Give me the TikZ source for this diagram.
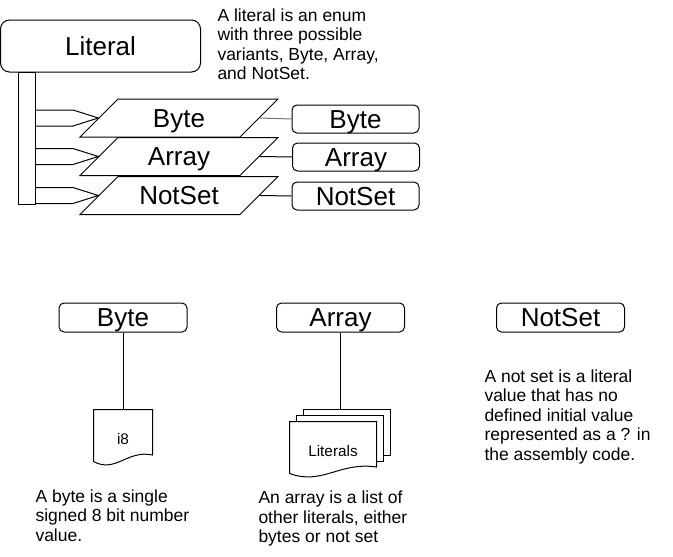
\documentclass[tikz,border=0pt]{standalone}
\usepackage{fontspec}
\setmainfont{Liberation Sans}
\usetikzlibrary{positioning,shapes.geometric,calc}

\begin{document}
\begin{tikzpicture}[
  x=1pt, y=-1pt, line width=1pt,
  lbox/.style={draw, rounded corners=5pt, minimum width=127pt, minimum height=28pt, inner sep=0pt,
               text height=18pt, text depth=0pt, font=\fontsize{26}{30}\selectfont},
  variant/.style={draw, trapezium, trapezium left angle=45, trapezium right angle=135,
                  trapezium stretches body, minimum width=198pt, inner xsep=0pt, inner ysep=10pt,
                  text height=18pt, text depth=0pt, font=\fontsize{26}{30}\selectfont},
  note/.style={anchor=north west, inner sep=0pt, align=left, font=\fontsize{17.5}{19.5}\selectfont},
  doc/.style={minimum height=51pt, inner sep=0pt, text height=17pt, text depth=0pt,
              font=\fontsize{15.3}{18}\selectfont}
]
\useasboundingbox (0,0) rectangle (673,557);
\node[lbox, minimum width=200pt, minimum height=52pt, rounded corners=9pt] (literal) at (100.5,46) {Literal};
\node[note] (litnote) at (217,8.3) {A literal is an enum\\with three possible\\variants, Byte, Array,\\and NotSet.};
\node[draw, anchor=north west, minimum width=17pt, minimum height=132pt, inner sep=0pt] (bar) at (18,72) {};
\node[variant] (pbyte) at (179,118) {Byte};
\node[variant] (parray) at (179,156.5) {Array};
\node[variant] (pnotset) at (179,195.5) {NotSet};
\node[lbox] (rbyte) at (355.5,119) {Byte};
\node[lbox] (rarray) at (356,157) {Array};
\node[lbox] (rnotset) at (355.5,196) {NotSet};
\node[lbox, minimum width=128pt, minimum height=29pt] (byte) at (123,317.5) {Byte};
\node[lbox, minimum width=128pt, minimum height=29pt] (array) at (340.5,317.5) {Array};
\node[lbox, minimum width=128pt, minimum height=29pt] (notset) at (560.5,317.5) {NotSet};
\node[doc, minimum width=58pt, below=77pt of byte] (i8) {i8};
\node[doc, minimum width=86pt, below=89pt of array, xshift=-7.5pt] (lits) {Literals};
\node[note] (bytenote) at (35,489.3) {A byte is a single\\signed 8 bit number\\value.};
\node[note] (arraynote) at (258,490.6) {An array is a list of\\other literals, either\\bytes or not set};
\node[note] (notsetnote) at (484,369.3) {A not set is a literal\\value that has no\\defined initial value\\represented as a ? in\\the assembly code.};
\foreach \p in {pbyte,parray,pnotset}
  \draw ($(bar.east |- \p.left side)+(0,-8)$) -- ++(37,0) -- (\p.left side)
        -- ($(bar.east |- \p.left side)+(37,8)$) -- ++(-37,0);
\draw[black!55] (pbyte.right side) -- (rbyte.west);
\draw (parray.right side) -- (rarray.west);
\draw (pnotset.right side) -- (rnotset.west);
\draw (byte) -- (i8);
\draw (array.south) -- ($(array.south |- lits.north)+(0,-12)$);
\draw (i8.south west) |- (i8.north east) -- ([yshift=6.5pt]i8.south east)
      .. controls +(-25,-5.5) and +(22,12) .. (i8.south west);
\draw (lits.south west) |- (lits.north east) -- ([yshift=6.5pt]lits.south east)
      .. controls +(-37,-5.5) and +(33,12) .. (lits.south west);
\draw ([xshift=7pt]lits.north west) |- ([xshift=7pt,yshift=6pt]lits.north east)
      |- ([yshift=12pt]lits.south east);
\draw ([xshift=14pt,yshift=6pt]lits.north west) |- ([xshift=14pt,yshift=12pt]lits.north east)
      |- ([xshift=7pt,yshift=18pt]lits.south east);
\end{tikzpicture}
\end{document}
